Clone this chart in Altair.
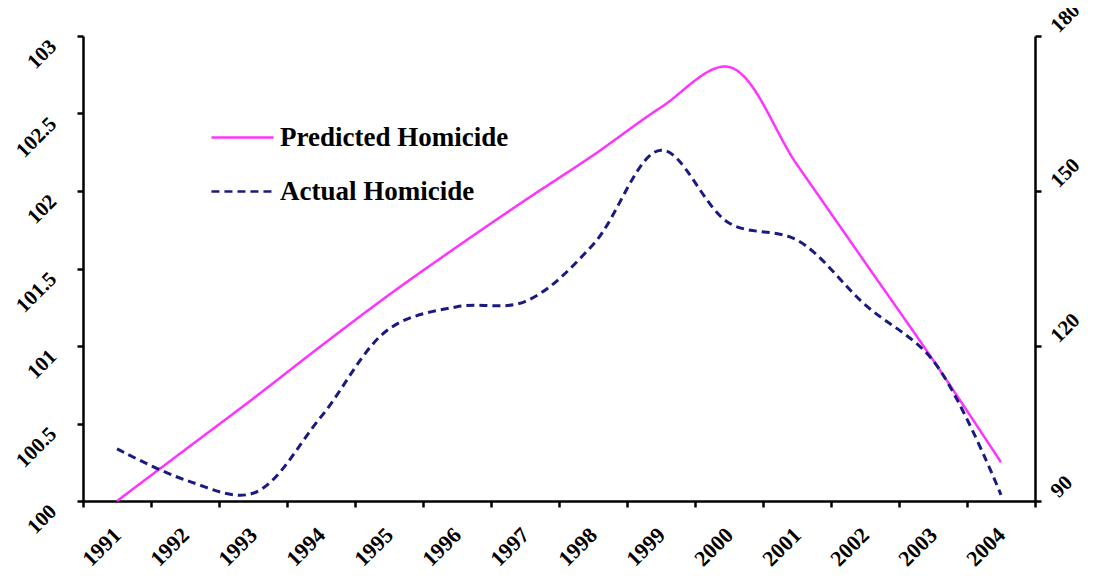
import altair as alt
import pandas as pd

years = [str(y) for y in range(1991, 2005)]
predicted = [100.0, 100.33, 100.66, 101.0, 101.33, 101.64, 101.94, 102.23, 102.54, 102.8, 102.17, 101.54, 100.91, 100.25]
actual = [100.1, 94.1, 91.5, 106.3, 123.3, 127.6, 128.6, 139.6, 157.9, 143.8, 140.5, 128.0, 117.2, 91.2]
series_names = ["Predicted Homicide", "Actual Homicide"]
left_ticks = [100, 100.5, 101, 101.5, 102, 102.5, 103]
right_ticks = [90, 120, 150, 180]

df = pd.DataFrame({
    "year": years * 2,
    "series": [series_names[0]] * len(years) + [series_names[1]] * len(years),
    "value": predicted + actual,
})

FONT = "Liberation Serif"

x_enc = alt.X(
    "year:O",
    sort=years,
    scale=alt.Scale(type="band", paddingInner=0, paddingOuter=0),
    axis=alt.Axis(
        title=None, tickBand="extent", labelAngle=-45, labelAlign="right",
        labelBaseline="middle", labelPadding=24, labelOverlap=False,
        labelFontSize=22,
    ),
)

color_enc = alt.Color(
    "series:N",
    scale=alt.Scale(domain=series_names, range=["#FF33FF", "#1A1A80"]),
    legend=alt.Legend(
        title=None, orient="none", legendX=131, legendY=73,
        symbolType="M-1.15,0H1.15", symbolSize=2916, symbolStrokeWidth=2.5,
        labelFont=FONT, labelFontSize=27, labelFontWeight="bold", labelColor="black",
        labelOffset=9, rowPadding=12, padding=0, labelLimit=400,
    ),
)
dash_enc = alt.StrokeDash(
    "series:N",
    scale=alt.Scale(domain=series_names, range=[[1, 0], [8, 5]]),
    legend=alt.Legend(title=None),
)

base = alt.Chart(df).encode(x=x_enc, color=color_enc, strokeDash=dash_enc)

pred_layer = base.transform_filter(
    alt.datum.series == series_names[0]
).mark_line(interpolate="catmull-rom", strokeWidth=2.5).encode(
    y=alt.Y(
        "value:Q",
        scale=alt.Scale(domain=[100, 103], zero=False, nice=False),
        axis=alt.Axis(
            title=None, orient="left", values=left_ticks, format="~f",
            labelAngle=-45, labelAlign="right", labelBaseline="middle",
            labelPadding=24, labelOffset=7, labelFlush=False, labelOverlap=False,
        ),
    )
)

act_layer = base.transform_filter(
    alt.datum.series == series_names[1]
).mark_line(interpolate="catmull-rom", strokeWidth=3).encode(
    y=alt.Y(
        "value:Q",
        scale=alt.Scale(domain=[90, 180], zero=False, nice=False),
        axis=alt.Axis(
            title=None, orient="right", values=right_ticks, format="~f",
            labelAngle=-45, labelAlign="left", labelBaseline="middle",
            labelPadding=13, labelOffset=-7, labelFlush=False, labelOverlap=False,
        ),
    )
)

chart = alt.layer(pred_layer, act_layer).resolve_scale(y="independent").properties(
    width=952,
    height=465,
    autosize=alt.AutoSizeParams(type="none"),
    padding={"left": 75, "top": 28, "right": 50, "bottom": 70},
    background="white",
).configure_view(stroke=None).configure_axis(
    grid=False,
    domainColor="black", domainWidth=2.5,
    tickColor="black", tickWidth=2.5, tickSize=6,
    labelFont=FONT, labelFontSize=21, labelFontWeight="bold", labelColor="black",
)

chart.save("out.html", embed_options={"renderer": "svg", "actions": False})
